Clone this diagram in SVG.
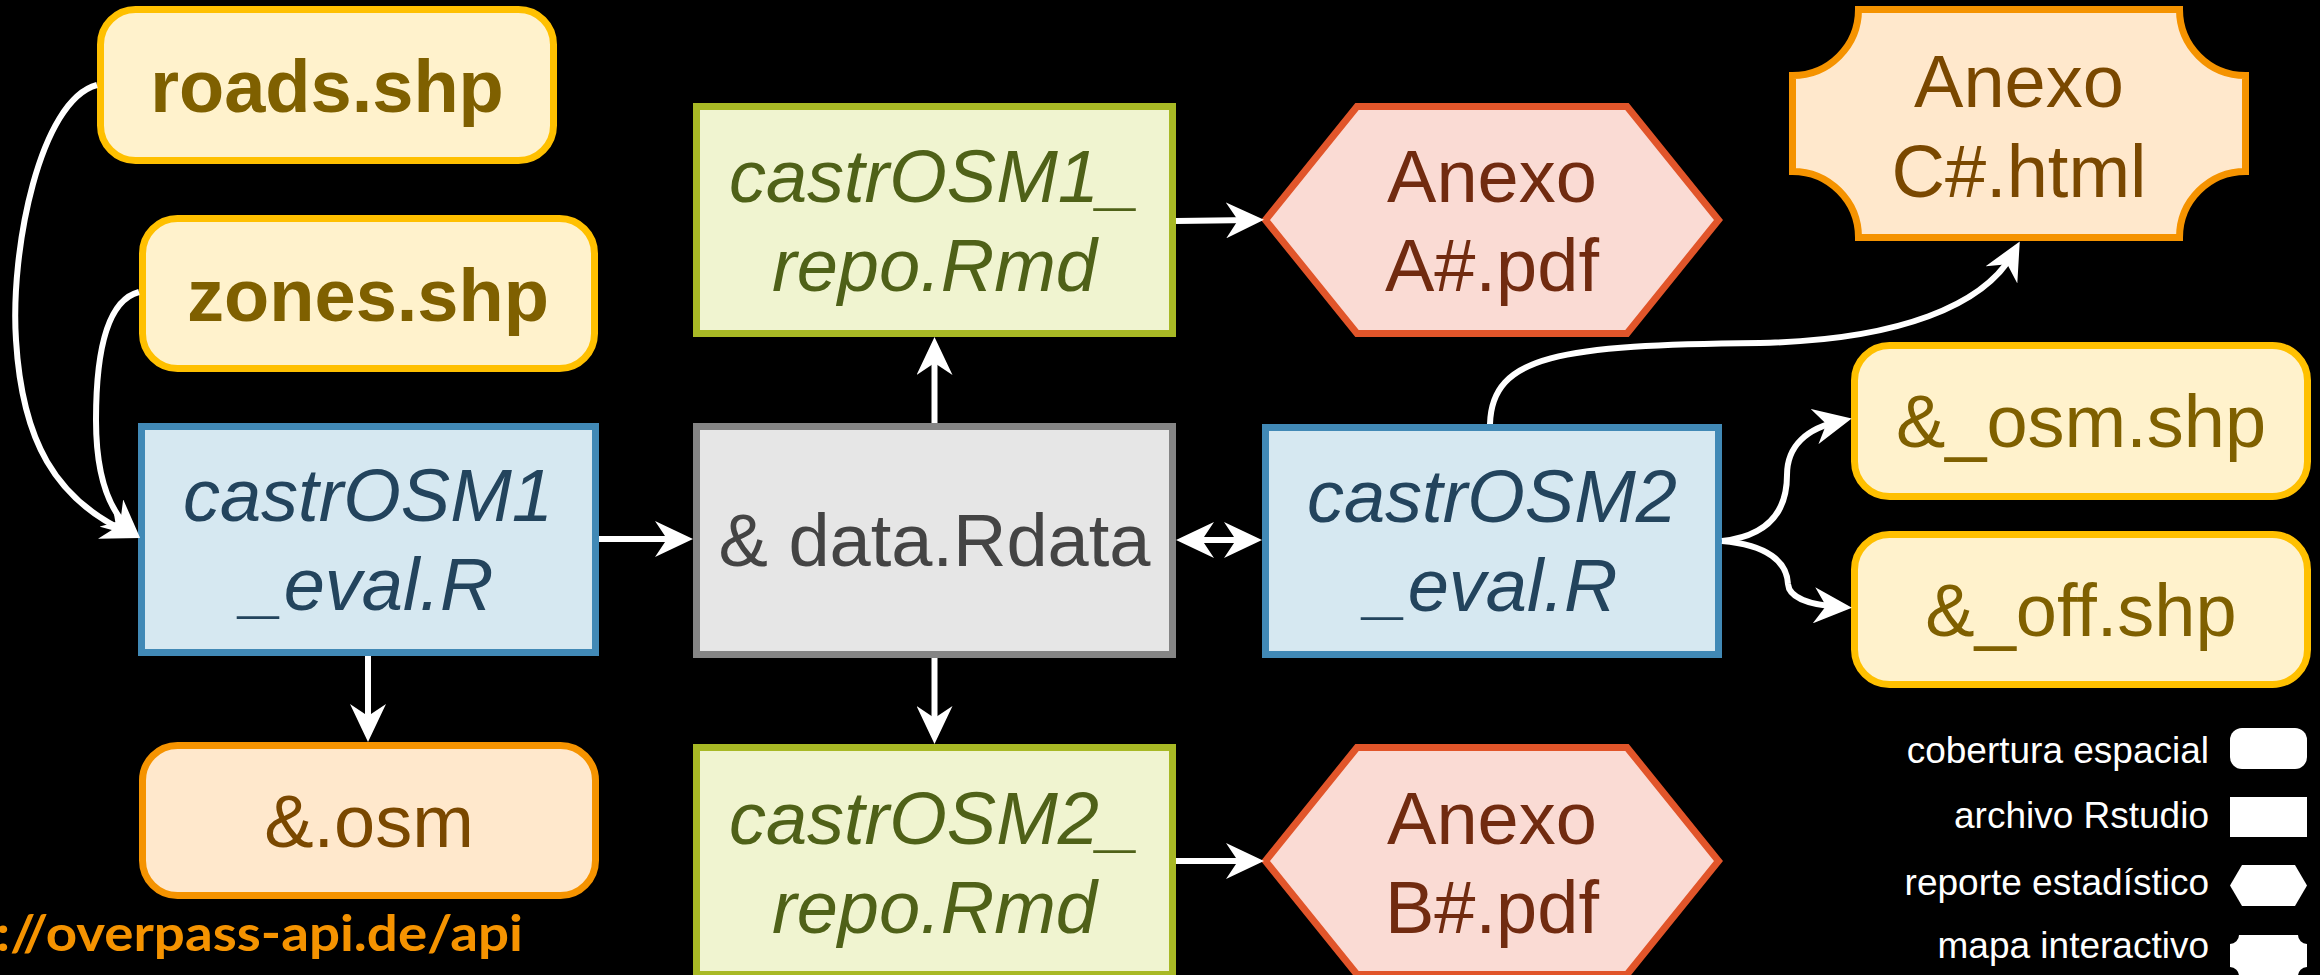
<svg xmlns="http://www.w3.org/2000/svg" width="2320" height="975" viewBox="0 0 2320 975">
<style>
text{font-family:"Liberation Sans",Arial,sans-serif;font-size:74px;text-anchor:middle}
.it{font-style:italic}
.bd{font-weight:bold}
.yel{fill:#fff2cc;stroke:#ffc000;stroke-width:7}
.yel-t{fill:#7f6000}
.blu{fill:#d6e8f1;stroke:#4189b6;stroke-width:7}
.blu-t{fill:#23445d}
.gry{fill:#e6e6e6;stroke:#858585;stroke-width:7}
.gry-t{fill:#444444}
.grn{fill:#f0f4d0;stroke:#a8b925;stroke-width:7}
.grn-t{fill:#4f6118}
.red{fill:#fadbd4;stroke:#e1552a;stroke-width:7}
.red-t{fill:#712b10}
.org{fill:#ffe8cc;stroke:#f59300;stroke-width:7}
.org-t{fill:#7a4800}
.edge{fill:none;stroke:#ffffff;stroke-width:6}
.lg{fill:#ffffff;font-size:37px;text-anchor:end}
.lgs{fill:#ffffff}
</style>
<defs>
<marker id="ah" markerUnits="userSpaceOnUse" markerWidth="38" markerHeight="36" viewBox="0 0 38 36" refX="26" refY="18" orient="auto-start-reverse">
<path d="M0,0 L38,18 L0,36 L12,18 Z" fill="#ffffff"/>
</marker>
</defs>
<rect x="0" y="0" width="2320" height="975" fill="#000000"/>

<g id="roads">
<rect class="yel" x="100.5" y="9.5" width="453" height="151" rx="35"/>
<text class="yel-t bd" x="327" y="112">roads.shp</text>
</g>
<g id="zones">
<rect class="yel" x="142.5" y="218.5" width="452" height="150" rx="35"/>
<text class="yel-t bd" x="368" y="321">zones.shp</text>
</g>
<g id="castrOSM1_eval">
<rect class="blu" x="141.5" y="426.5" width="454" height="226"/>
<text class="blu-t it" x="368" y="521">castrOSM1</text>
<text class="blu-t it" x="368" y="610">_eval.R</text>
</g>
<g id="osm">
<rect class="org" x="142.5" y="745.5" width="453" height="150" rx="35"/>
<text class="org-t" x="369" y="847">&amp;.osm</text>
</g>
<g id="overpass">
<text x="-4" y="951" textLength="527" lengthAdjust="spacingAndGlyphs" style="font-family:Lato,'Noto Sans',sans-serif;font-weight:bold;font-size:50px;text-anchor:start;fill:#f59300">://overpass-api.de/api</text>
</g>

<g id="castrOSM1_repo">
<rect class="grn" x="696.5" y="106.5" width="476" height="227"/>
<text class="grn-t it" x="934.5" y="202">castrOSM1_</text>
<text class="grn-t it" x="934.5" y="291">repo.Rmd</text>
</g>
<g id="data">
<rect class="gry" x="696.5" y="426.5" width="476" height="228"/>
<text class="gry-t" x="934.5" y="566">&amp; data.Rdata</text>
</g>
<g id="castrOSM2_repo">
<rect class="grn" x="696.5" y="747.5" width="476" height="227"/>
<text class="grn-t it" x="934.5" y="844">castrOSM2_</text>
<text class="grn-t it" x="934.5" y="933">repo.Rmd</text>
</g>

<g id="anexoA">
<polygon class="red" points="1265.5,220 1357,106.5 1627,106.5 1718.5,220 1627,333.5 1357,333.5"/>
<text class="red-t" x="1492" y="202">Anexo</text>
<text class="red-t" x="1492" y="291">A#.pdf</text>
</g>
<g id="castrOSM2_eval">
<rect class="blu" x="1265.5" y="427.5" width="453" height="227"/>
<text class="blu-t it" x="1492" y="522">castrOSM2</text>
<text class="blu-t it" x="1492" y="611">_eval.R</text>
</g>
<g id="anexoB">
<polygon class="red" points="1265.5,861 1357,747.5 1627,747.5 1718.5,861 1627,974.5 1357,974.5"/>
<text class="red-t" x="1492" y="844">Anexo</text>
<text class="red-t" x="1492" y="933">B#.pdf</text>
</g>

<g id="anexoC">
<path class="org" d="M1858.5,9.5 L2179.5,9.5 A66,66 0 0 0 2245.5,75.5 L2245.5,171.5 A66,66 0 0 0 2179.5,237.5 L1858.5,237.5 A66,66 0 0 0 1792.5,171.5 L1792.5,75.5 A66,66 0 0 0 1858.5,9.5 Z"/>
<text class="org-t" x="2019" y="107">Anexo</text>
<text class="org-t" x="2019" y="197">C#.html</text>
</g>
<g id="osm_shp">
<rect class="yel" x="1854.5" y="345.5" width="453" height="151" rx="35"/>
<text class="yel-t" x="2081" y="447">&amp;_osm.shp</text>
</g>
<g id="off_shp">
<rect class="yel" x="1854.5" y="534.5" width="453" height="150" rx="35"/>
<text class="yel-t" x="2081" y="636">&amp;_off.shp</text>
</g>

<g id="legend">
<rect class="lgs" x="2230" y="728" width="77" height="41" rx="12"/>
<text class="lg" x="2209" y="763">cobertura espacial</text>
<rect class="lgs" x="2230" y="797" width="77" height="40"/>
<text class="lg" x="2209" y="828">archivo Rstudio</text>
<polygon class="lgs" points="2230,885.5 2242,865 2295,865 2307,885.5 2295,906 2242,906"/>
<text class="lg" x="2209" y="895">reporte estadístico</text>
<path class="lgs" d="M2239,935 L2298,935 A9,9 0 0 0 2307,944 L2307,967 A9,9 0 0 0 2298,976 L2239,976 A9,9 0 0 0 2230,967 L2230,944 A9,9 0 0 0 2239,935 Z"/>
<text class="lg" x="2209" y="958">mapa interactivo</text>
</g>

<g id="connectors">
<path class="edge" marker-end="url(#ah)" d="M97,85 C40,100 10,250 16,340 C22,440 55,500 129,533"/>
<path class="edge" marker-end="url(#ah)" d="M139,292 C108,300 96,350 96,420 C96,475 108,510 131,530"/>
<path class="edge" marker-end="url(#ah)" d="M599,539 L681,539"/>
<path class="edge" marker-end="url(#ah)" d="M368,656 L368,730"/>
<path class="edge" marker-end="url(#ah)" d="M934.5,423 L934.5,349"/>
<path class="edge" marker-end="url(#ah)" d="M934.5,658 L934.5,732"/>
<path class="edge" marker-start="url(#ah)" marker-end="url(#ah)" d="M1188,540 L1250,540"/>
<path class="edge" marker-end="url(#ah)" d="M1176,221 L1252,220"/>
<path class="edge" marker-end="url(#ah)" d="M1176,861 L1252,861"/>
<path class="edge" marker-end="url(#ah)" d="M1490,424 C1492,355 1560,345 1760,343 C1900,340 1985,305 2014,252"/>
<path class="edge" marker-end="url(#ah)" d="M1722,541 C1768,536 1787,512 1787,475 C1787,445 1808,428 1840,421"/>
<path class="edge" marker-end="url(#ah)" d="M1722,541 C1768,545 1787,562 1788,584 C1789,598 1810,605 1840,607"/>
</g>
</svg>
